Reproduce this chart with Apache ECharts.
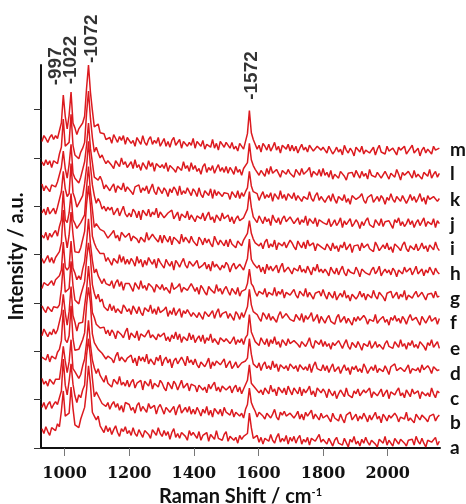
<!DOCTYPE html>
<html><head><meta charset="utf-8">
<script src="https://cdn.jsdelivr.net/npm/echarts@6/dist/echarts.min.js"></script>
<style>html,body{margin:0;padding:0;background:#fff}#c{width:466px;height:504px}</style>
</head><body><div id="c"></div>
<script>
// Raman shift sampling (cm-1)
const ramanShift = [930,936,942,948,954,960,966,972,978,984,
990,996,1002,1008,1014,1020,1026,1032,1038,1044,
1050,1056,1062,1068,1074,1080,1086,1092,1098,1104,
1110,1116,1122,1128,1134,1140,1146,1152,1158,1164,
1170,1176,1182,1188,1194,1200,1206,1212,1218,1224,
1230,1236,1242,1248,1254,1260,1266,1272,1278,1284,
1290,1296,1302,1308,1314,1320,1326,1332,1338,1344,
1350,1356,1362,1368,1374,1380,1386,1392,1398,1404,
1410,1416,1422,1428,1434,1440,1446,1452,1458,1464,
1470,1476,1482,1488,1494,1500,1506,1512,1518,1524,
1530,1536,1542,1548,1554,1560,1566,1572,1578,1584,
1590,1596,1602,1608,1614,1620,1626,1632,1638,1644,
1650,1656,1662,1668,1674,1680,1686,1692,1698,1704,
1710,1716,1722,1728,1734,1740,1746,1752,1758,1764,
1770,1776,1782,1788,1794,1800,1806,1812,1818,1824,
1830,1836,1842,1848,1854,1860,1866,1872,1878,1884,
1890,1896,1902,1908,1914,1920,1926,1932,1938,1944,
1950,1956,1962,1968,1974,1980,1986,1992,1998,2004,
2010,2016,2022,2028,2034,2040,2046,2052,2058,2064,
2070,2076,2082,2088,2094,2100,2106,2112,2118,2124,
2130,2136,2142,2148,2154,2160];

const specA = [14,9,16,11,7,15,14,12,19,
16,32,53,27,27,30,57,35,18,19,15,24,23,36,54,79,60,31,27,23,27,17,18,10,17,11,
15,8,13,17,10,6,14,11,16,9,
12,7,15,9,6,13,11,5,12,14,8,4,13,10,7,15,9,
6,12,7,11,3,10,14,5,9,4,10,11,6,2,12,7,10,
9,4,11,2,7,5,10,1,8,9,3,12,4,6,2,8,11,
1,6,8,2,5,-1,7,3,6,
7,9,30,15,4,6,
7,0,5,-2,4,6,1,8,2,-1,5,9,0,4,1,7,-2,5,
1,6,-1,4,7,-2,3,0,5,-3,4,6,1,-1,8,0,3,
3,-2,4,0,-4,2,5,-1,1,-3,4,2,-5,3,0,6,-2,1,-4,3,-1,5,0,-3,2,4,-2,-5,3,1,-1,6,-3,2,0,-4,4,1,-2,3,5,-1,-4,2,0,3,-3,6,1,-2,4,-1,-5,2,3,0,-2,5,-3,1];

const specB = [11,16,9,14,17,10,14,17,14,
21,28,61,34,24,38,56,35,23,16,24,21,29,34,65,82,63,41,22,27,23,25,15,17,12,16,
9,14,17,11,15,8,13,6,16,14,
14,8,11,5,13,16,7,12,9,6,15,10,8,13,4,11,14,
9,4,11,13,6,7,12,3,10,14,5,8,11,6,12,4,9,
4,11,7,2,9,5,12,3,8,1,10,7,4,9,2,11,6,
7,3,9,1,6,8,2,5,0,
9,14,31,16,11,7,
1,6,8,2,-1,5,7,0,4,9,1,-2,6,3,7,2,0,5,
5,0,3,7,-1,4,-2,6,2,1,8,-1,4,3,-2,5,0,
-2,3,1,-4,5,0,2,-3,4,-1,-5,3,1,6,-2,0,4,-3,2,-1,5,1,-4,3,-2,0,6,-1,2,-5,4,1,-3,3,0,-2,5,2,-4,1,3,-1,6,-3,0,2,-5,4,1,-2,3,5,-1,-4,2,0,4,-3,1,3];

const specC = [16,10,13,8,15,17,10,15,17,
15,30,49,34,22,33,56,26,23,21,16,20,29,36,53,76,51,35,27,21,26,19,19,12,19,11,
13,7,15,16,10,18,9,12,8,14,
7,12,15,6,11,9,14,4,13,12,8,15,5,11,13,7,14,
11,6,3,12,9,5,13,10,4,9,14,6,7,11,3,10,12,
8,2,9,11,4,7,1,10,5,9,12,3,7,2,8,10,4,
3,8,1,6,9,2,7,0,5,
5,14,30,11,9,6,
8,1,4,-1,6,5,0,9,2,5,-2,7,4,1,6,-1,8,3,
-1,6,3,0,7,-2,5,1,4,8,-1,3,-3,6,4,1,5,
2,-4,5,1,-2,3,-5,0,4,2,-3,6,-1,1,-4,3,0,5,-2,-3,4,1,-1,6,-4,2,3,-2,0,5,-3,1,4,-5,2,0,-1,3,6,-2,1,-4,4,2,-3,5,0,-1,3,-5,2,4,-2,1,-3,6,0,-4,3,1];

const specD = [13,15,10,16,8,14,13,11,18,
21,30,62,31,28,35,66,32,20,21,21,19,31,38,67,85,69,37,28,29,21,23,17,19,11,14,
16,11,7,14,18,9,13,15,8,12,
11,15,7,12,4,14,9,13,8,16,6,11,12,5,13,9,15,
4,10,13,7,11,2,9,12,6,5,13,9,4,14,7,10,5,
11,5,2,8,10,3,7,12,1,8,4,9,10,5,3,11,2,
6,9,1,4,8,2,0,7,5,
9,12,32,16,6,7,
2,7,-1,5,8,1,4,0,9,2,6,-2,5,7,1,4,-1,6,
6,1,4,-2,5,7,0,3,-1,6,-3,4,8,1,2,-1,5,
-1,4,-3,2,6,-2,0,3,-4,1,5,-1,2,-5,3,0,4,-2,1,-3,6,2,-4,0,3,-1,5,-3,1,2,-2,4,0,-5,3,1,6,-1,-3,2,4,-2,0,5,-4,1,3,-1,2,-3,5,0,-2,4,1,-4,3,2,-1,0];

const specE = [10,17,13,9,14,11,17,12,16,
18,33,53,34,21,35,61,31,24,15,23,23,24,41,57,82,59,34,29,22,24,18,20,19,12,16,
10,16,13,7,15,17,11,8,14,18,
6,13,11,8,15,5,12,14,9,7,16,8,11,13,6,12,9,
10,13,5,9,4,11,7,14,6,12,3,9,10,5,13,6,11,
3,7,10,4,11,2,8,5,12,3,7,9,1,8,10,4,7,
8,2,5,9,1,6,3,7,1,
8,11,32,14,9,4,
5,0,8,4,1,7,-1,6,2,9,1,4,-2,6,5,0,7,2,
0,5,7,1,-2,4,6,-1,3,8,0,-3,5,3,1,6,-1,
4,-1,2,-4,3,0,-2,5,1,-3,2,6,-1,-4,3,1,-2,4,0,-5,2,3,-1,5,-3,0,4,-2,1,3,-4,2,5,-1,0,-3,4,1,-2,6,-1,2,-4,3,0,5,-2,1,-3,4,2,-1,-5,3,0,6,-2,1,4,-3];

const specF = [15,11,8,14,16,9,14,16,13,
16,32,59,29,29,33,61,36,21,21,17,26,26,40,63,80,65,37,28,22,27,19,22,14,16,10,
17,10,15,8,12,14,7,16,13,9,
12,6,15,11,7,14,8,5,13,11,9,16,7,12,6,14,8,
7,11,14,4,10,6,13,5,9,12,3,10,7,11,13,4,8,
10,3,8,7,1,9,11,4,5,10,2,8,12,3,7,5,9,
2,7,5,0,9,6,1,8,3,
5,14,32,16,9,8,
6,2,-1,8,5,1,7,0,4,6,-2,5,9,2,0,7,4,1,
3,-1,6,4,0,7,-2,5,1,4,8,-1,2,6,-3,4,5,
-3,2,5,-1,1,-4,3,6,-2,0,4,-3,2,1,-5,3,-1,4,0,-2,5,2,-4,1,3,-1,6,-3,0,2,4,-2,1,-5,3,0,5,-1,2,-3,4,1,-4,2,6,0,-2,3,-1,-5,4,2,-3,1,5,-1,0,3,-4,2];

const specG = [8,14,15,11,13,16,11,17,15,
21,27,56,30,27,30,57,29,24,17,21,17,28,36,55,80,54,37,24,28,21,21,13,18,13,15,
11,16,8,14,17,10,15,6,13,15,
13,9,5,14,12,7,16,8,11,6,13,15,9,4,12,14,7,
12,6,9,11,3,14,7,5,10,13,4,9,11,6,4,13,9,
5,9,2,11,8,4,1,10,7,9,3,12,5,8,2,7,10,
5,1,8,6,2,9,0,5,7,
7,13,28,13,10,4,
0,5,7,2,8,-1,4,6,1,9,0,5,2,7,-2,4,6,1,
4,7,1,-2,5,3,0,8,-1,4,6,-3,3,1,5,0,7,
1,-3,4,2,-2,5,-4,0,3,-1,6,-2,1,-5,2,4,-3,0,5,-1,3,-4,2,1,-2,6,0,-3,4,2,-1,-5,3,1,5,-2,0,4,-3,2,-1,6,-4,1,3,-2,2,5,-1,-3,4,0,-4,2,1,3,-2,5,-1,0];

const specH = [14,9,13,17,10,15,9,15,17,
21,30,64,38,25,38,62,39,21,23,20,25,25,42,70,89,69,37,30,25,27,19,20,19,11,15,
15,7,14,13,9,18,10,16,8,13,
8,14,11,6,16,9,13,5,12,7,15,11,8,13,4,14,10,
10,4,13,9,6,11,2,12,9,5,10,14,7,4,11,9,6,
9,12,4,2,7,10,3,8,1,11,5,8,9,2,7,4,10,
7,0,6,9,3,1,8,5,2,
8,14,34,13,9,7,
4,7,0,5,-2,8,2,6,1,4,7,-1,5,9,0,2,5,6,
-2,4,5,1,7,0,3,-1,6,4,-3,5,1,8,0,3,-1,
3,0,-4,5,1,-2,4,-3,2,6,-1,-4,3,0,2,-2,5,1,-5,3,4,-1,0,-3,2,5,-2,1,6,-4,0,3,-1,2,-3,4,1,-5,2,3,-2,5,0,-1,4,-3,1,6,-2,0,3,-4,2,-1,5,1,-3,4,0,-2];

const specI = [13,10,16,8,15,11,15,18,12,
22,29,59,29,26,36,56,29,25,20,18,26,25,34,62,84,58,40,21,25,26,19,17,17,18,10,
8,15,18,10,13,7,16,14,11,9,
15,7,12,14,9,5,11,13,6,16,8,7,14,11,9,6,13,
5,13,9,6,12,3,11,10,7,4,14,6,11,9,5,12,7,
7,2,11,8,3,10,5,9,4,1,12,7,3,8,10,2,8,
1,9,4,6,0,7,5,2,8,
7,15,28,15,9,5,
7,2,5,-1,6,9,0,4,1,8,-2,5,7,2,6,0,4,8,
5,1,-2,7,3,0,6,-1,8,2,0,5,-3,4,6,1,3,
-2,4,1,-3,5,-1,2,-4,3,0,6,-2,-1,4,-5,2,1,3,-3,5,0,-2,4,-1,1,-4,6,2,-3,0,3,-1,5,-2,1,-5,4,2,0,-3,3,6,-1,-4,2,1,-2,4,-3,0,5,-1,2,-4,3,1,-2,6,0,-3];

const specJ = [11,15,9,17,10,13,16,10,17,
17,33,54,36,28,31,62,32,26,17,21,19,29,41,58,85,60,40,29,21,26,22,15,18,13,17,
14,17,9,11,16,8,13,18,10,7,
11,7,15,12,6,13,4,14,11,8,15,7,12,9,16,6,12,
13,6,4,11,9,14,5,7,12,3,10,11,6,13,4,9,11,
2,8,10,5,11,3,8,12,4,7,1,9,8,3,11,5,4,
9,2,7,0,5,8,3,1,6,
7,15,33,17,7,7,
1,8,4,0,7,2,5,-2,9,4,1,6,-1,5,8,2,0,7,
7,0,3,6,-1,4,1,8,-2,5,3,0,6,-3,4,5,1,
2,-1,5,-3,0,4,-2,1,6,-4,3,-1,2,5,-3,0,4,1,-5,2,-2,3,6,-1,0,-4,4,1,-2,5,-3,2,0,3,-1,-5,4,1,6,-2,2,-3,0,5,-1,3,-4,1,4,-2,0,6,-3,2,1,-1,5,-4,3,0];

const specK = [16,9,14,12,8,15,14,13,18,
17,33,50,32,22,36,57,27,22,21,17,23,22,39,56,79,53,38,23,25,20,24,19,11,15,16,
9,13,16,7,14,15,10,17,8,13,
14,8,5,13,11,15,7,12,9,14,6,11,16,8,5,13,11,
6,12,9,3,11,7,13,10,4,14,5,9,6,12,10,4,11,
8,3,12,5,2,9,7,4,11,1,10,4,8,10,3,7,5,
6,0,8,5,2,9,1,7,3,
8,12,29,14,8,6,
6,-1,4,8,1,5,2,7,-2,6,4,0,9,1,5,-1,6,4,
1,7,-1,4,6,-2,3,5,0,8,1,-2,4,7,-1,3,5,
-3,1,4,-2,6,0,-4,3,2,-1,5,-3,1,-5,4,2,0,-2,3,6,-1,-4,2,1,5,-3,0,3,-2,4,1,-5,2,-1,6,0,-3,3,1,-2,4,2,-4,0,5,-1,3,-3,1,6,-2,2,-5,4,0,-1,3,5,-2,1];

const specL = [14,10,16,11,15,8,15,15,12,
22,29,58,30,30,34,63,31,21,23,17,24,28,34,64,87,59,39,24,29,23,18,21,16,12,15,
16,10,7,15,13,9,18,11,14,8,
9,14,7,16,8,11,5,13,12,6,15,9,13,4,12,14,8,
11,7,13,4,10,12,6,3,9,11,5,14,7,10,4,13,6,
10,4,7,1,9,12,3,8,5,10,2,7,11,4,8,3,9,
2,8,5,1,9,3,6,0,7,
8,13,33,16,10,6,
8,0,5,4,-1,7,1,9,2,0,6,4,-2,5,7,1,6,2,
4,-2,6,3,0,7,1,-1,5,8,-2,4,3,0,6,-1,7,
0,3,-2,5,-4,1,2,-3,4,6,-1,-5,2,0,3,-2,5,1,-3,4,-1,2,-4,6,0,1,-2,3,5,-3,-1,4,0,-4,2,3,-2,6,1,-5,3,0,-1,4,2,-3,5,-2,1,0,-4,3,2,-1,6,-3,1,4,-2,2];

const specM = [10,16,13,9,14,17,12,16,13,
21,29,58,36,23,37,61,29,24,17,23,21,29,36,65,89,61,42,25,23,28,19,19,18,12,14,
14,8,17,13,9,15,11,16,7,14,
13,8,11,5,14,12,7,16,9,6,12,15,7,11,8,14,5,
9,13,5,10,4,11,14,6,7,12,3,10,11,5,9,6,13,
3,10,8,5,11,2,7,9,4,12,3,8,1,10,7,4,9,
7,3,9,2,5,0,8,6,2,
10,18,42,19,12,7,
2,6,-1,8,5,1,7,0,4,9,1,5,-2,6,4,2,7,0,
6,0,5,-2,3,7,1,4,-1,6,8,0,-2,5,3,1,4,
1,-2,5,3,-3,0,4,-1,2,-4,6,1,-2,3,0,-5,4,2,-1,5,-3,1,3,-2,0,4,-4,2,6,-1,1,-3,5,0,-2,3,2,-4,4,1,-1,5,-3,0,2,6,-2,-1,3,-5,1,4,-2,2,0,-3,5,1,-1,3];

const traceLetters = ['a','b','c','d','e','f','g','h','i','j','k','l','m'];
const traceOffsets = [6,31,56,81,106,132,157,182,207,232,257,282,307];
const letterTicks = [0,26,51,77,103,129,154,180,206,231,257,283,308];
const xTicks = [1000,1200,1400,1600,1800,2000];
const yTicks = [0,50,100,150,200,250,300,350];
const peakNames = ['-997','-1022','-1072','-1572'];
const peakLabelX = [974,1020,1085,1580];
const peakLabelY = [375,376,398,360];

const spectra = [specA,specB,specC,specD,specE,specF,specG,specH,specI,specJ,specK,specL,specM];

const chart = echarts.init(document.getElementById('c'), null, {renderer:'canvas'});
const bad = spectra.map((s,i)=>s.length!==ramanShift.length ? traceLetters[i]+':'+s.length : null).filter(Boolean);

const lineSeries = spectra.map((s, i) => ({
  type: 'line',
  name: traceLetters[i],
  showSymbol: false,
  symbol: 'none',
  clip: false,
  silent: true,
  lineStyle: {color: '#dc1a1f', width: 1.5},
  data: ramanShift.map((x, k) => [x, s[k] + traceOffsets[i]])
}));

const labelSeries = {
  type: 'scatter',
  symbolSize: 2,
  clip: false,
  silent: true,
  itemStyle: {color: 'rgba(255,255,255,0)'},
  labelLayout: {hideOverlap: false},
  label: {
    show: true, position: 'inside', rotate: 90, align: 'left', verticalAlign: 'middle',
    formatter: p => p.name, color: '#000', fontFamily: 'Liberation Sans', fontWeight: 'bold', fontSize: 19
  },
  data: peakNames.map((n, i) => ({name: n, value: [peakLabelX[i], peakLabelY[i]]}))
};

chart.setOption({
  animation: false,
  backgroundColor: '#fff',
  title: bad.length ? {text: 'LEN ' + bad.join(' '), textStyle:{fontSize:10}} : undefined,
  grid: {left: 41, right: 26, top: 65, bottom: 56, containLabel: false, outerBoundsMode: 'none'},
  xAxis: {
    type: 'value', min: 927, max: 2162,
    axisLine: {lineStyle: {color: '#111', width: 2}},
    axisTick: {show: true, customValues: xTicks, length: 8, lineStyle: {color: '#777', width: 1}},
    axisLabel: {customValues: xTicks, margin: 18, color: '#111', fontFamily: '"DejaVu Serif", serif', fontWeight: 'bold', fontSize: 16,
      formatter: v => String(v)},
    splitLine: {show: false},
    name: 'Raman Shift / cm{sup|-1}', nameLocation: 'middle', nameGap: 31,
    nameTextStyle: {color: '#111', fontFamily: 'Lato', fontWeight: 'bold', fontSize: 20,
      rich: {sup: {fontFamily: 'Lato', fontWeight: 'bold', fontSize: 11, color: '#111', padding: [0, 0, 9, 0]}}}
  },
  yAxis: [{
    type: 'value', min: 0, max: 396, interval: 50,
    axisLine: {show: true, lineStyle: {color: '#111', width: 2}},
    axisTick: {show: true, customValues: yTicks, length: 7, lineStyle: {color: '#333', width: 1}},
    axisLabel: {show: false},
    splitLine: {show: false},
    name: 'Intensity / a.u.', nameLocation: 'middle', nameGap: 14,
    nameTextStyle: {color: '#111', fontFamily: 'Lato', fontWeight: 'bold', fontSize: 20}
  }, {
    type: 'value', min: 0, max: 396, position: 'right',
    axisLine: {show: false}, axisTick: {show: false}, splitLine: {show: false},
    axisLabel: {show: true, customValues: letterTicks, margin: 10, align: 'left',
      formatter: v => traceLetters[letterTicks.indexOf(v)] || '',
      color: '#111', fontFamily: 'Lato', fontWeight: 'bold', fontSize: 19}
  }],
  series: lineSeries.concat([labelSeries])
});
</script>
</body></html>
